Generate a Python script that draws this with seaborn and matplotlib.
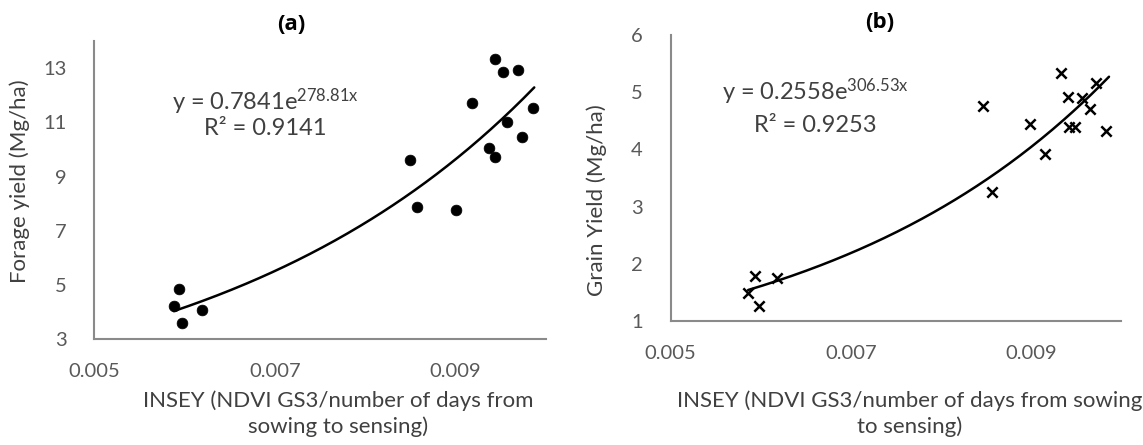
import numpy as np
import pandas as pd
import matplotlib
matplotlib.use("Agg")
import matplotlib.pyplot as plt
import seaborn as sns

# ---- data ----
insey_a = [0.00588, 0.00594, 0.00597, 0.00619, 0.00849, 0.00857, 0.00900, 0.00918,
           0.00937, 0.00943, 0.00944, 0.00952, 0.00957, 0.00969, 0.00973, 0.00986]
forage = [4.23, 4.85, 3.61, 4.08, 9.60, 7.88, 7.77, 11.70,
          10.06, 9.71, 13.35, 12.87, 11.03, 12.93, 10.46, 11.54]

insey_b = [0.00586, 0.00594, 0.00598, 0.00618, 0.00847, 0.00857, 0.00899, 0.00916,
           0.00934, 0.00941, 0.00943, 0.00949, 0.00957, 0.00966, 0.00973, 0.00984]
grain = [1.49, 1.79, 1.27, 1.75, 4.76, 3.25, 4.44, 3.92,
         5.33, 4.92, 4.40, 4.40, 4.89, 4.70, 5.16, 4.33]

# exponential trendline coefficients as printed on the chart
coef_a = (0.7841, 278.81)
coef_b = (0.2558, 306.53)
r2_a = 0.9141
r2_b = 0.9253
fit_range_a = (0.00588, 0.00987)
fit_range_b = (0.00586, 0.00987)

xticks = [0.005, 0.007, 0.009]
yticks_a = [3, 5, 7, 9, 11, 13]
yticks_b = [1, 2, 3, 4, 5, 6]

sns.set_theme(style="white")
plt.rcParams['font.family'] = ['Lato', 'DejaVu Sans']
plt.rcParams['mathtext.fontset'] = 'custom'
plt.rcParams['mathtext.rm'] = 'Lato'
plt.rcParams['mathtext.default'] = 'regular'

W, H = 1143, 445
fig = plt.figure(figsize=(W / 100, H / 100), dpi=100)
fig.patch.set_facecolor('white')

def box(l, t, r, b):
    return [l / W, 1 - b / H, (r - l) / W, (b - t) / H]

ax_a = fig.add_axes(box(94.3, 41, 546, 339.3))
ax_b = fig.add_axes(box(670.7, 35, 1120.7, 321))

spine_col = '#8a8a8a'
tick_col = '#595959'
txt_col = '#404040'

def style(ax, yticks, ylim):
    ax.set_xlim(0.005, 0.010)
    ax.set_ylim(*ylim)
    ax.set_xticks(xticks)
    ax.set_xticklabels([f"{v:.3f}" for v in xticks])
    ax.set_yticks(yticks)
    ax.set_yticklabels([str(v) for v in yticks])
    for s in ['top', 'right']:
        ax.spines[s].set_visible(False)
    for s in ['left', 'bottom']:
        ax.spines[s].set_color(spine_col)
        ax.spines[s].set_linewidth(1.5)
    ax.tick_params(axis='both', direction='in', length=6, width=1.2,
                   color=spine_col, labelsize=14.5, labelcolor=tick_col)
    ax.tick_params(axis='y', pad=20)
    ax.tick_params(axis='x', pad=17)
    ax.set_xlabel('')
    ax.set_ylabel('')
    ax.grid(False)
    ax.set_facecolor('white')

# panel (a)
df_a = pd.DataFrame({'x': insey_a, 'y': forage})
sns.scatterplot(data=df_a, x='x', y='y', ax=ax_a, color='black', s=60,
                edgecolor='black', linewidth=0.5, zorder=3)
xa = np.linspace(*fit_range_a, 200)
sns.lineplot(x=xa, y=coef_a[0] * np.exp(coef_a[1] * xa), ax=ax_a,
             color='black', linewidth=1.8, zorder=2)
style(ax_a, yticks_a, (3, 14))

# panel (b)
df_b = pd.DataFrame({'x': insey_b, 'y': grain})
sns.scatterplot(data=df_b, x='x', y='y', ax=ax_b, color='black', marker='x',
                s=55, linewidth=1.8, zorder=3)
xb = np.linspace(*fit_range_b, 200)
sns.lineplot(x=xb, y=coef_b[0] * np.exp(coef_b[1] * xb), ax=ax_b,
             color='black', linewidth=1.8, zorder=2)
style(ax_b, yticks_b, (1, 6))

# titles
title_font = ['Open Sans', 'DejaVu Sans']
fig.text(291 / W, 1 - 24 / H, '(a)', ha='center', va='center', fontsize=16,
         fontweight='bold', color='black', family=title_font)
fig.text(880 / W, 1 - 22 / H, '(b)', ha='center', va='center', fontsize=16,
         fontweight='bold', color='black', family=title_font)

# equations
fig.text(265 / W, 1 - 102 / H, r'y = 0.7841e$^{278.81x}$', ha='center', va='center',
         fontsize=17, color=txt_col)
fig.text(265 / W, 1 - 128 / H, f'R² = {r2_a}', ha='center', va='center',
         fontsize=17, color=txt_col)
fig.text(815 / W, 1 - 92 / H, r'y = 0.2558e$^{306.53x}$', ha='center', va='center',
         fontsize=17, color=txt_col)
fig.text(815 / W, 1 - 125 / H, f'R² = {r2_b}', ha='center', va='center',
         fontsize=17, color=txt_col)

# axis labels
fig.text(20 / W, 1 - 181 / H, 'Forage yield (Mg/ha)', rotation=90, ha='center',
         va='center', fontsize=16, color=txt_col)
fig.text(597 / W, 1 - 200 / H, 'Grain Yield (Mg/ha)', rotation=90, ha='center',
         va='center', fontsize=16, color=txt_col)
fig.text(338 / W, 1 - 414 / H, 'INSEY (NDVI GS3/number of days from\nsowing to sensing)',
         ha='center', va='center', fontsize=16, color=txt_col, linespacing=1.35)
fig.text(910 / W, 1 - 414 / H, 'INSEY (NDVI GS3/number of days from sowing\nto sensing)',
         ha='center', va='center', fontsize=16, color=txt_col, linespacing=1.35)

fig.savefig('out.png', dpi=100, facecolor='white')
